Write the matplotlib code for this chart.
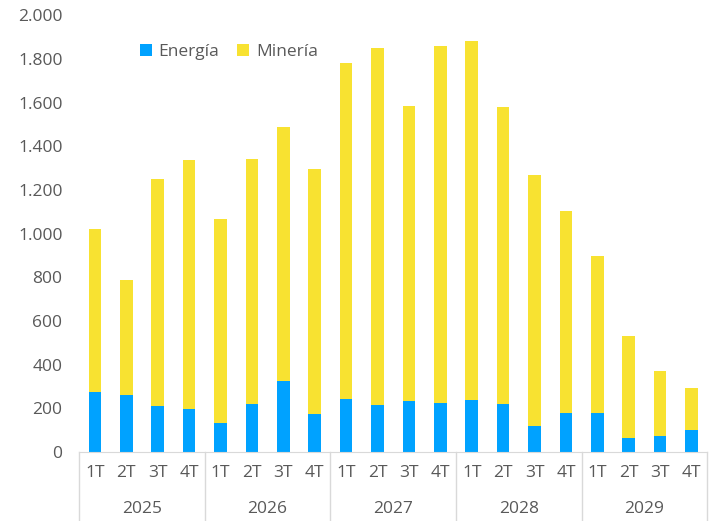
import numpy as np
import matplotlib.pyplot as plt
from matplotlib.ticker import FuncFormatter

# datos
years = ["2025", "2026", "2027", "2028", "2029"]
quarters = ["1T", "2T", "3T", "4T"]
energia = [276, 260, 212, 198, 133, 220, 325, 175, 243, 217,
           232, 223, 240, 220, 120, 177, 179, 66, 75, 102]
total = [1020, 789, 1250, 1338, 1067, 1343, 1487, 1294, 1781, 1850,
         1586, 1859, 1882, 1578, 1268, 1103, 897, 533, 371, 294]
mineria = [t - e for t, e in zip(total, energia)]

plt.rcParams['font.family'] = ['Open Sans', 'DejaVu Sans']
grey = '#595959'
line_grey = '#d9d9d9'
fs = 12.5

fig = plt.figure(figsize=(7.13, 5.21), dpi=100)
ax = fig.add_axes([0.111, 0.1324, 0.881, 0.8384])

x = np.arange(len(energia))
w = 0.4
ax.bar(x, energia, w, color='#00A2FF', label='Energía', zorder=2)
ax.bar(x, mineria, w, bottom=energia, color='#F8E231', label='Minería', zorder=2)

ax.set_xlim(-0.5, len(x) - 0.5)
ax.set_ylim(0, 2000)
ax.set_yticks(np.arange(0, 2001, 200))
ax.yaxis.set_major_formatter(FuncFormatter(lambda v, p: f"{int(v):,}".replace(",", ".")))
ax.tick_params(axis='y', length=0, pad=12, labelsize=fs, labelcolor=grey)

ax.set_xticks(x)
ax.set_xticklabels(quarters * len(years))
ax.tick_params(axis='x', length=0, pad=9, labelsize=fs, labelcolor=grey)

for s in ['top', 'right', 'left']:
    ax.spines[s].set_visible(False)
ax.spines['bottom'].set_color(line_grey)

# separadores de años y etiquetas
tr = ax.get_xaxis_transform()
for i in range(len(years) + 1):
    ax.plot([i * 4 - 0.5] * 2, [0, -0.16], transform=tr, color=line_grey,
            lw=1, clip_on=False)
for i, yr in enumerate(years):
    ax.text(i * 4 + 1.5, -0.131, yr, transform=tr, ha='center', va='center',
            fontsize=fs, color=grey)

ax.legend(loc='center', bbox_to_anchor=(0.238, 0.915), ncol=2, frameon=False,
          fontsize=fs, labelcolor=grey, handlelength=0.7, handleheight=0.7,
          handletextpad=0.4, columnspacing=1.0)

fig.savefig('out.png', dpi=100)
